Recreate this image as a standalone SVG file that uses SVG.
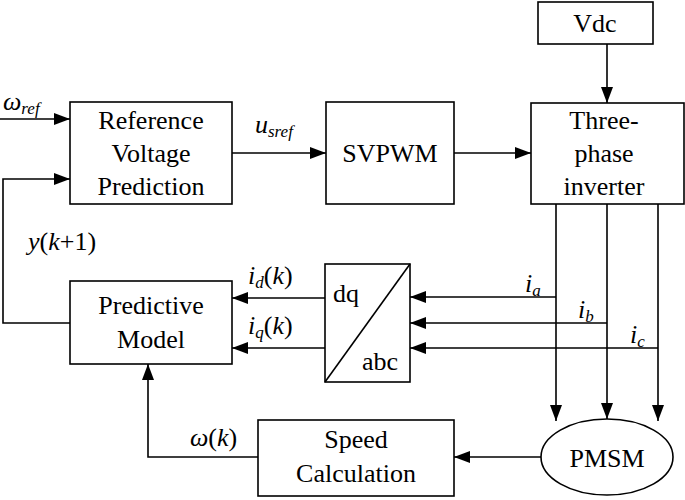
<svg xmlns="http://www.w3.org/2000/svg" width="685" height="500" viewBox="0 0 685 500">
<style>
.b{fill:#fff;stroke:#000;stroke-width:1.6}
.c{fill:none;stroke:#000;stroke-width:1.6}
text{font-family:'Liberation Serif','Times New Roman','DejaVu Serif',serif;font-size:26px;fill:#000}
.m{text-anchor:middle}
.i{font-style:italic}
.s{font-size:17px;font-style:italic}
</style>
<defs>
<marker id="A" viewBox="0 0 16 12" refX="16" refY="6" markerWidth="16" markerHeight="12" markerUnits="userSpaceOnUse" orient="auto"><path d="M0,0 L16,6 L0,12 z"/></marker></defs>
<g id="connectors" class="c">
<path d="M0,119 H70" marker-end="url(#A)"/>
<path d="M232,153 H326" marker-end="url(#A)"/>
<path d="M454,153 H531" marker-end="url(#A)"/>
<path d="M607,44 V103" marker-end="url(#A)"/>
<path d="M70,323 H3 V179 H70" marker-end="url(#A)"/>
<path d="M556,204 V421" marker-end="url(#A)"/>
<path d="M607,204 V419" marker-end="url(#A)"/>
<path d="M658,204 V421" marker-end="url(#A)"/>
<path d="M556,297 H410" marker-end="url(#A)"/>
<path d="M607,323 H410" marker-end="url(#A)"/>
<path d="M658,348 H410" marker-end="url(#A)"/>
<path d="M325,298 H232" marker-end="url(#A)"/>
<path d="M325,348 H232" marker-end="url(#A)"/>
<path d="M541,457 H454" marker-end="url(#A)"/>
<path d="M258,457 H148 V364" marker-end="url(#A)"/>
</g>
<g id="vdc"><rect class="b" x="538" y="2" width="115" height="42"/><text class="m" x="595" y="32">Vdc</text></g>
<g id="ref"><rect class="b" x="70" y="102" width="162" height="102"/><text class="m" x="151" y="129">Reference</text><text class="m" x="151" y="162">Voltage</text><text class="m" x="151" y="195">Prediction</text></g>
<g id="svpwm"><rect class="b" x="326" y="102" width="128" height="102"/><text class="m" x="390" y="162">SVPWM</text></g>
<g id="inverter"><rect class="b" x="531" y="103" width="153" height="101"/><text class="m" x="604" y="129">Three-</text><text class="m" x="604" y="162">phase</text><text class="m" x="604" y="195">inverter</text></g>
<g id="pm"><rect class="b" x="70" y="281" width="162" height="83"/><text class="m" x="151" y="314">Predictive</text><text class="m" x="151" y="348">Model</text></g>
<g id="dqabc"><rect class="b" x="325" y="264" width="85" height="118"/><path class="c" d="M325,382 L410,264"/><text x="333" y="302">dq</text><text x="362" y="370">abc</text></g>
<g id="speed"><rect class="b" x="258" y="420" width="196" height="76"/><text class="m" x="356" y="448">Speed</text><text class="m" x="356" y="482">Calculation</text></g>
<g id="pmsm"><ellipse class="b" cx="607" cy="457" rx="66" ry="38"/><text class="m" x="607" y="467">PMSM</text></g>
<g id="labels">
<text class="i" x="3" y="110">ω<tspan class="s" dy="4">ref</tspan></text>
<text class="i" x="255" y="133">u<tspan class="s" dy="4">sref</tspan></text>
<text x="28" y="250"><tspan class="i">y</tspan>(<tspan class="i">k</tspan>+1)</text>
<text x="248" y="284"><tspan class="i">i</tspan><tspan class="s" dy="4">d</tspan><tspan dy="-4">(</tspan><tspan class="i">k</tspan>)</text>
<text x="248" y="334"><tspan class="i">i</tspan><tspan class="s" dy="4">q</tspan><tspan dy="-4">(</tspan><tspan class="i">k</tspan>)</text>
<text class="i" x="525" y="292">i<tspan class="s" dy="4">a</tspan></text>
<text class="i" x="578" y="318">i<tspan class="s" dy="4">b</tspan></text>
<text class="i" x="630" y="343">i<tspan class="s" dy="4">c</tspan></text>
<text x="190" y="446"><tspan class="i">ω</tspan>(<tspan class="i">k</tspan>)</text>
</g>
</svg>
